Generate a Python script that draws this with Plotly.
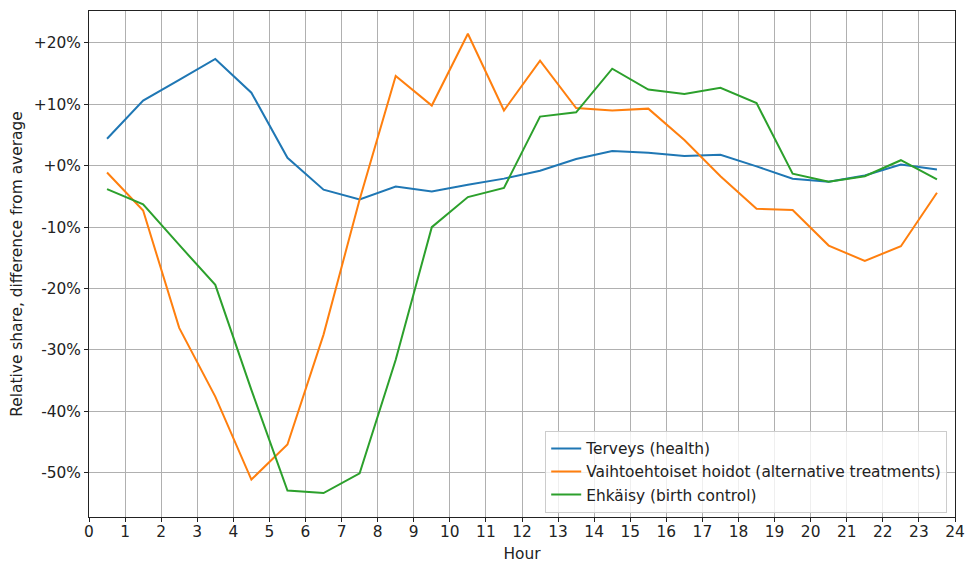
import plotly.graph_objects as go

hours = [h + 0.5 for h in range(24)]

terveys = [4.4, 10.6, 14.0, 17.4, 11.9, 1.3, -3.9, -5.5, -3.4, -4.2, -3.1, -2.1,
           -0.8, 1.1, 2.4, 2.1, 1.6, 1.8, -0.1, -2.1, -2.6, -1.6, 0.2, -0.6]
vaihtoehtoiset = [-1.1, -7.3, -26.4, -37.6, -51.1, -45.4, -27.5, -5.5, 14.6, 9.8, 21.5, 9.0,
                  17.1, 9.4, 9.0, 9.3, 4.2, -1.7, -7.0, -7.2, -13.0, -15.5, -13.1, -4.4]
ehkaisy = [-3.8, -6.3, -12.9, -19.4, -36.5, -52.9, -53.3, -50.1, -31.6, -10.0, -5.1, -3.6,
           8.0, 8.7, 15.8, 12.4, 11.7, 12.7, 10.2, -1.3, -2.6, -1.7, 0.9, -2.2]

series_names = ["Terveys (health)",
                "Vaihtoehtoiset hoidot (alternative treatments)",
                "Ehkäisy (birth control)"]
series_values = [terveys, vaihtoehtoiset, ehkaisy]
colors = ["#1f77b4", "#ff7f0e", "#2ca02c"]

y_tickvals = [20, 10, 0, -10, -20, -30, -40, -50]
y_ticktext = ["+20%", "+10%", "+0%", "-10%", "-20%", "-30%", "-40%", "-50%"]
x_tickvals = list(range(25))

fig = go.Figure()
for name, vals, c in zip(series_names, series_values, colors):
    fig.add_trace(go.Scatter(x=hours, y=vals, mode="lines", name=name,
                             line=dict(color=c, width=2)))

font = dict(family="DejaVu Sans", size=15.4, color="#222")
fig.update_layout(
    width=973, height=562,
    margin=dict(l=81, r=26, t=3, b=53),
    plot_bgcolor="white", paper_bgcolor="white",
    font=font,
    showlegend=True,
    legend=dict(x=0.991, y=0.008, xanchor="right", yanchor="bottom",
                bgcolor="rgba(255,255,255,0.8)", bordercolor="#cccccc", borderwidth=1,
                font=font, tracegroupgap=0),
)
fig.update_xaxes(range=[0, 24], tickvals=x_tickvals, showgrid=True, gridcolor="#b0b0b0",
                 gridwidth=1, showline=True, linecolor="#222", linewidth=1, mirror=True,
                 ticks="outside", ticklen=4, tickcolor="#222", zeroline=False,
                 automargin=False, ticklabelstandoff=-3,
                 title=dict(text="Hour", font=font, standoff=7))
fig.update_yaxes(range=[-57.2, 25.2], tickvals=y_tickvals, ticktext=y_ticktext,
                 showgrid=True, gridcolor="#b0b0b0", gridwidth=1,
                 showline=True, linecolor="#222", linewidth=1, mirror=True,
                 ticks="outside", ticklen=4, tickcolor="#222", zeroline=False,
                 automargin=False,
                 title=dict(text="Relative share, difference from average", font=font, standoff=15))

fig.write_html("out.html")
